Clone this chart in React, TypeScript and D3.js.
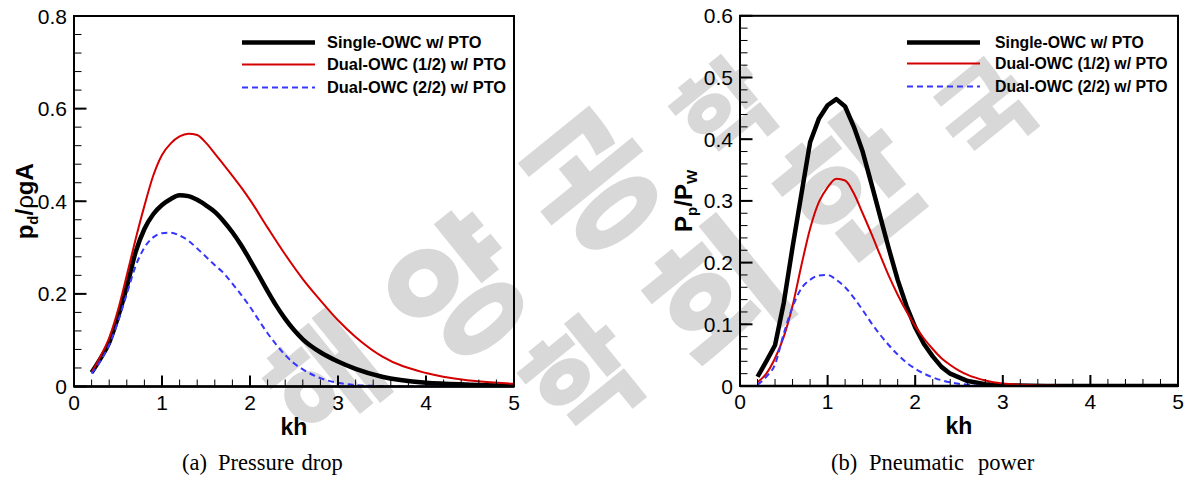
import React from 'react';
import * as d3 from 'd3';

// ---------- data ----------
const seriesNames = ['Single-OWC w/ PTO', 'Dual-OWC (1/2) w/ PTO', 'Dual-OWC (2/2) w/ PTO'];
const khTicks = [0, 1, 2, 3, 4, 5];
const pressureTicks = [0, 0.2, 0.4, 0.6, 0.8];
const powerTicks = [0, 0.1, 0.2, 0.3, 0.4, 0.5, 0.6];

// (a) pressure drop
const pSingleKh = [0.2, 0.3, 0.4, 0.5, 0.6, 0.7, 0.8, 0.9, 1.0, 1.1, 1.2, 1.3, 1.4, 1.5, 1.6, 1.7, 1.8, 1.9, 2.0, 2.1, 2.2, 2.3, 2.4, 2.5, 2.6, 2.8, 3.0, 3.2, 3.5, 4.0, 4.5, 5.0];
const pSingle = [0.03, 0.06, 0.095, 0.15, 0.215, 0.29, 0.34, 0.372, 0.392, 0.405, 0.413, 0.411, 0.403, 0.391, 0.377, 0.357, 0.333, 0.305, 0.273, 0.24, 0.206, 0.174, 0.146, 0.122, 0.102, 0.074, 0.054, 0.038, 0.021, 0.008, 0.004, 0.002];
const pDual1Kh = [0.2, 0.3, 0.4, 0.5, 0.6, 0.7, 0.8, 0.9, 1.0, 1.1, 1.2, 1.3, 1.4, 1.5, 1.6, 1.7, 1.8, 1.9, 2.0, 2.2, 2.4, 2.6, 2.8, 3.0, 3.2, 3.5, 4.0, 4.5, 5.0];
const pDual1 = [0.03, 0.065, 0.105, 0.165, 0.24, 0.318, 0.39, 0.455, 0.5, 0.525, 0.54, 0.546, 0.543, 0.526, 0.503, 0.479, 0.455, 0.43, 0.403, 0.343, 0.285, 0.232, 0.186, 0.143, 0.107, 0.065, 0.029, 0.013, 0.006];
const pDual2Kh = [0.2, 0.3, 0.4, 0.5, 0.6, 0.7, 0.8, 0.9, 1.0, 1.1, 1.2, 1.3, 1.4, 1.5, 1.6, 1.7, 1.8, 1.9, 2.0, 2.1, 2.2, 2.3, 2.4, 2.5, 2.6, 2.8, 3.0, 3.2, 3.5, 4.0, 5.0];
const pDual2 = [0.028, 0.055, 0.09, 0.14, 0.2, 0.26, 0.3, 0.322, 0.331, 0.332, 0.326, 0.315, 0.298, 0.28, 0.262, 0.245, 0.222, 0.198, 0.172, 0.143, 0.115, 0.09, 0.068, 0.05, 0.037, 0.018, 0.008, 0.003, 0.001, 0, 0];

// (b) pneumatic power
const wSingleKh = [0.2, 0.3, 0.4, 0.5, 0.6, 0.7, 0.8, 0.9, 1.0, 1.1, 1.2, 1.3, 1.4, 1.5, 1.6, 1.7, 1.8, 1.9, 2.0, 2.1, 2.2, 2.3, 2.4, 2.6, 2.8, 3.0, 3.5, 4.0, 5.0];
const wSingle = [0.015, 0.04, 0.066, 0.135, 0.225, 0.31, 0.395, 0.433, 0.455, 0.465, 0.453, 0.42, 0.38, 0.328, 0.275, 0.222, 0.172, 0.13, 0.095, 0.068, 0.048, 0.031, 0.02, 0.008, 0.003, 0.001, 0, 0, 0];
const wDual1Kh = [0.2, 0.3, 0.4, 0.5, 0.6, 0.7, 0.8, 0.9, 1.0, 1.1, 1.2, 1.3, 1.4, 1.5, 1.6, 1.7, 1.8, 1.9, 2.0, 2.1, 2.2, 2.3, 2.4, 2.5, 2.6, 2.8, 3.0, 3.2, 3.4, 4.0, 5.0];
const wDual1 = [0.006, 0.02, 0.045, 0.08, 0.13, 0.195, 0.255, 0.298, 0.322, 0.336, 0.333, 0.312, 0.28, 0.247, 0.212, 0.178, 0.148, 0.121, 0.097, 0.077, 0.06, 0.045, 0.034, 0.025, 0.018, 0.009, 0.004, 0.002, 0.001, 0, 0];
const wDual2Kh = [0.2, 0.3, 0.4, 0.5, 0.6, 0.7, 0.8, 0.9, 1.0, 1.1, 1.2, 1.3, 1.4, 1.5, 1.6, 1.7, 1.8, 1.9, 2.0, 2.2, 2.4, 2.6, 2.8, 3.0, 4.0, 5.0];
const wDual2 = [0.002, 0.015, 0.035, 0.085, 0.128, 0.158, 0.172, 0.179, 0.18, 0.172, 0.16, 0.143, 0.123, 0.102, 0.083, 0.066, 0.051, 0.038, 0.028, 0.014, 0.006, 0.002, 0, 0, 0, 0];

// background watermark glyphs (two diagonal rows of the society's name)
const watermarkRow1 = ['해', '양', '공', '학'];
const watermarkRow2 = ['학', '회', '한', '국'];

// ---------- styles ----------
const lineStyles = [
  { stroke: '#000000', width: 4.5, dash: undefined as string | undefined },
  { stroke: '#d40000', width: 2, dash: undefined as string | undefined },
  { stroke: '#3636ff', width: 2, dash: '6,4' },
];
const SANS = '"Liberation Sans", Arial, sans-serif';
const SERIF = '"Liberation Serif", "Times New Roman", serif';

type Series = { kh: number[]; v: number[]; linear?: boolean };

function range(lo: number, hi: number, step: number) {
  const out: number[] = [];
  const n = Math.round((hi - lo) / step);
  for (let i = 0; i <= n; i++) out.push(+(lo + i * step).toFixed(6));
  return out;
}

function Panel(props: {
  left: number; right: number; top: number; bottom: number;
  yMax: number; yTicks: number[]; yMinor: number;
  series: Series[];
  yLabel: React.ReactNode; yLabelX: number;
  legendX: number; legendTextX: number; legendLen: number; legendRows: number[]; legendFont: number;
  caption: { text: string; x: number }[];
}) {
  const { left, right, top, bottom, yMax, yTicks, yMinor, series } = props;
  const x = d3.scaleLinear().domain([0, 5]).range([left, right]);
  const y = d3.scaleLinear().domain([0, yMax]).range([bottom, top]);
  const mkLine = (linear?: boolean) => d3.line<[number, number]>()
    .x(d => x(d[0]))
    .y(d => y(d[1]))
    .curve(linear ? d3.curveLinear : d3.curveMonotoneX);
  const xMinor = range(0, 5, 0.2);
  const yMinorTicks = range(0, yMax, yMinor);
  const cx = (left + right) / 2;
  const cy = (top + bottom) / 2;
  return (
    <g>
      <defs>
        <clipPath id={`clip${left}`}>
          <rect x={left} y={top} width={right - left} height={bottom - top} />
        </clipPath>
      </defs>
      <g clipPath={`url(#clip${left})`}>
        {series.map((s, i) => (
          <path key={i}
            d={mkLine(s.linear)(s.kh.map((k, j) => [k, s.v[j]] as [number, number])) || ''}
            fill="none" stroke={lineStyles[i].stroke} strokeWidth={lineStyles[i].width}
            strokeDasharray={lineStyles[i].dash} strokeLinejoin="round" />
        ))}
      </g>
      {xMinor.map((t, i) => (
        <line key={'xm' + i} x1={x(t)} x2={x(t)} y1={bottom} y2={bottom - 7} stroke="#000" strokeWidth={1} />
      ))}
      {yMinorTicks.map((t, i) => (
        <line key={'ym' + i} x1={left} x2={left + 7.5} y1={y(t)} y2={y(t)} stroke="#000" strokeWidth={1} />
      ))}
      {khTicks.map((t, i) => (
        <line key={'xM' + i} x1={x(t)} x2={x(t)} y1={bottom} y2={bottom - 11} stroke="#000" strokeWidth={2} />
      ))}
      {yTicks.map((t, i) => (
        <line key={'yM' + i} x1={left} x2={left + 12.5} y1={y(t)} y2={y(t)} stroke="#000" strokeWidth={2} />
      ))}
      <rect x={left} y={top} width={right - left} height={bottom - top} fill="none" stroke="#000" strokeWidth={2} />
      <line x1={left} x2={right} y1={bottom} y2={bottom} stroke="#000" strokeWidth={2.6} />
      {khTicks.map((t, i) => (
        <text key={'xl' + i} x={x(t)} y={bottom + 23} textAnchor="middle" fontFamily={SANS} fontSize={21} fill="#000">{String(t)}</text>
      ))}
      {yTicks.map((t, i) => (
        <text key={'yl' + i} x={left - 7} y={y(t)} dy="0.36em" textAnchor="end" fontFamily={SANS} fontSize={21} fill="#000">{String(t)}</text>
      ))}
      <text x={cx} y={bottom + 48} textAnchor="middle" fontFamily={SANS} fontWeight="bold" fontSize={23} fill="#000">kh</text>
      <text transform={`translate(${props.yLabelX},${cy}) rotate(-90)`} textAnchor="middle" fontFamily={SANS} fontWeight="bold" fontSize={24} fill="#000">{props.yLabel}</text>
      {seriesNames.map((n, i) => (
        <g key={'lg' + i}>
          <line x1={props.legendX} x2={props.legendX + props.legendLen} y1={props.legendRows[i]} y2={props.legendRows[i]}
            stroke={lineStyles[i].stroke} strokeWidth={lineStyles[i].width} strokeDasharray={lineStyles[i].dash} />
          <text x={props.legendTextX} y={props.legendRows[i]} dy="0.36em" fontFamily={SANS} fontWeight="bold" fontSize={props.legendFont} fill="#000">{n}</text>
        </g>
      ))}
      <text y={470} fontFamily={SERIF} fontSize={22.5} fill="#000">
        {props.caption.map((c, i) => (
          <tspan key={i} x={c.x}>{c.text}</tspan>
        ))}
      </text>
    </g>
  );
}

function Watermark() {
  // rows follow a diagonal through the centre of the row-1 "양"
  const fsMax = 140;
  const pitch = 172;
  const ox = 460, oy = 292, ang = -39;
  const a = (ang * Math.PI) / 180;
  const rows = [
    { glyphs: watermarkRow1, first: -1, off: 0 },
    { glyphs: watermarkRow2, first: 0.15, off: 168 },
  ];
  const items: { ch: string; gx: number; gy: number; fs: number }[] = [];
  rows.forEach(r => r.glyphs.forEach((ch, i) => {
    const lx = (r.first + i) * pitch;
    const ly = r.off;
    const gx = ox + lx * Math.cos(a) - ly * Math.sin(a);
    const gy0 = oy + lx * Math.sin(a) + ly * Math.cos(a);
    // keep each glyph's box inside the picture: nudge, then shrink if needed
    const gy = Math.max(112, Math.min(380, gy0));
    const fs = Math.min(fsMax, gy / 1.12, (480 - gy) / 0.86);
    items.push({ ch, gx, gy, fs });
  }));
  return (
    <g fill="#d8d8d8" fontFamily='"Noto Sans CJK KR", sans-serif' fontWeight={900}>
      {items.map((g, i) => (
        <text key={i} transform={`translate(${g.gx},${g.gy}) rotate(${ang})`} dy="0.35em" fontSize={g.fs} textAnchor="middle">{g.ch}</text>
      ))}
    </g>
  );
}

export default function App() {
  const pressureSeries: Series[] = [
    { kh: pSingleKh, v: pSingle },
    { kh: pDual1Kh, v: pDual1 },
    { kh: pDual2Kh, v: pDual2 },
  ];
  const powerSeries: Series[] = [
    { kh: wSingleKh, v: wSingle, linear: true },
    { kh: wDual1Kh, v: wDual1 },
    { kh: wDual2Kh, v: wDual2 },
  ];
  return (
    <svg width={1192} height={480} style={{ position: 'absolute', left: 0, top: 0, background: '#fff' }}>
      <rect x={0} y={0} width={1192} height={480} fill="#fff" />
      <Watermark />
      <Panel left={74} right={514} top={16} bottom={386.5}
        yMax={0.8} yTicks={pressureTicks} yMinor={0.04}
        series={pressureSeries}
        yLabelX={33}
        yLabel={<>p<tspan dy={5} fontSize={15}>d</tspan><tspan dy={-5}>/</tspan><tspan fontWeight="normal">ρ</tspan>gA</>}
        legendX={242} legendTextX={327} legendLen={73} legendRows={[42.5, 64.5, 87.5]} legendFont={16.4}
        caption={[{ text: '(a)', x: 182 }, { text: 'Pressure', x: 218 }, { text: 'drop', x: 301.5 }]}
      />
      <Panel left={740} right={1178} top={15.8} bottom={386}
        yMax={0.6} yTicks={powerTicks} yMinor={0.02}
        series={powerSeries}
        yLabelX={692}
        yLabel={<>P<tspan dy={5} fontSize={15}>p</tspan><tspan dy={-5}>/P</tspan><tspan dy={5} fontSize={15}>W</tspan></>}
        legendX={907} legendTextX={995} legendLen={73} legendRows={[42.5, 63.5, 86.5]} legendFont={15.8}
        caption={[{ text: '(b)', x: 831 }, { text: 'Pneumatic', x: 869 }, { text: 'power', x: 978 }]}
      />
    </svg>
  );
}
